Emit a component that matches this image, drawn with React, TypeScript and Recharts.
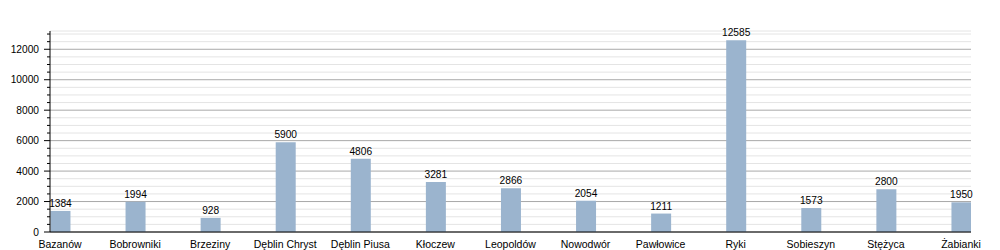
import React from "react";
import { BarChart, Bar, XAxis, YAxis, CartesianGrid, LabelList } from "recharts";

// sołectwa / miejscowości
const towns = [
  "Bazanów", "Bobrowniki", "Brzeziny", "Dęblin Chryst", "Dęblin Piusa", "Kłoczew",
  "Leopoldów", "Nowodwór", "Pawłowice", "Ryki", "Sobieszyn", "Stężyca", "Żabianki",
];
const population = [1384, 1994, 928, 5900, 4806, 3281, 2866, 2054, 1211, 12585, 1573, 2800, 1950];
const yTicks = [
  0, 500, 1000, 1500, 2000, 2500, 3000, 3500, 4000, 4500, 5000, 5500, 6000, 6500,
  7000, 7500, 8000, 8500, 9000, 9500, 10000, 10500, 11000, 11500, 12000, 12500, 13000,
];
const yMax = 13200;

const data = towns.map((name, i) => ({ idx: i, name, value: population[i] }));
const FONT = "'Liberation Sans', Arial, sans-serif";

const YTick = (props: any) => {
  const { x, y, payload } = props;
  const v = payload.value as number;
  const major = v % 2000 === 0;
  return (
    <g>
      <line x1={x - (major ? 6 : 3)} x2={x} y1={y} y2={y} stroke="#000" strokeWidth={1} />
      {major && (
        <text x={x - 11} y={y} dy={3.5} textAnchor="end" fontSize={10.2} fill="#000" fontFamily={FONT}>
          {v}
        </text>
      )}
    </g>
  );
};

const gridLine = (props: any) => {
  const { x1, x2, y1, y2, index } = props;
  const v = yTicks[index];
  const major = v % 2000 === 0;
  return (
    <line
      key={`g-${index}`}
      x1={x1}
      x2={x2}
      y1={y1}
      y2={y2}
      stroke={major ? "#a9a9a9" : "#e4e4e4"}
      strokeWidth={1}
    />
  );
};

export default function App() {
  return (
    <div style={{ position: "absolute", left: 0, top: 0, width: 1000, height: 250, background: "#fff" }}>
      <BarChart width={1000} height={250} data={data} margin={{ top: 31, right: 29, bottom: 0, left: 0 }}>
        <CartesianGrid vertical={false} horizontal={gridLine} />
        <XAxis
          dataKey="idx"
          type="number"
          domain={[-0.1333, 12.1333]}
          allowDataOverflow
          ticks={towns.map((_, i) => i)}
          tickFormatter={(i: number) => towns[i]}
          interval={0}
          tickLine={false}
          tickSize={0}
          tickMargin={9}
          height={18}
          axisLine={{ stroke: "#000" }}
          tick={{ fontSize: 10.5, fill: "#000", fontFamily: FONT }}
        />
        <YAxis
          type="number"
          domain={[0, yMax]}
          allowDataOverflow
          ticks={yTicks}
          interval={0}
          width={50}
          tickLine={false}
          tickSize={0}
          tickMargin={0}
          axisLine={{ stroke: "#000" }}
          tick={<YTick />}
        />
        <Bar dataKey="value" fill="#9bb4ce" barSize={20} isAnimationActive={false}>
          <LabelList dataKey="value" position="top" offset={4} fontSize={10.2} fill="#000" fontFamily={FONT} />
        </Bar>
      </BarChart>
    </div>
  );
}
